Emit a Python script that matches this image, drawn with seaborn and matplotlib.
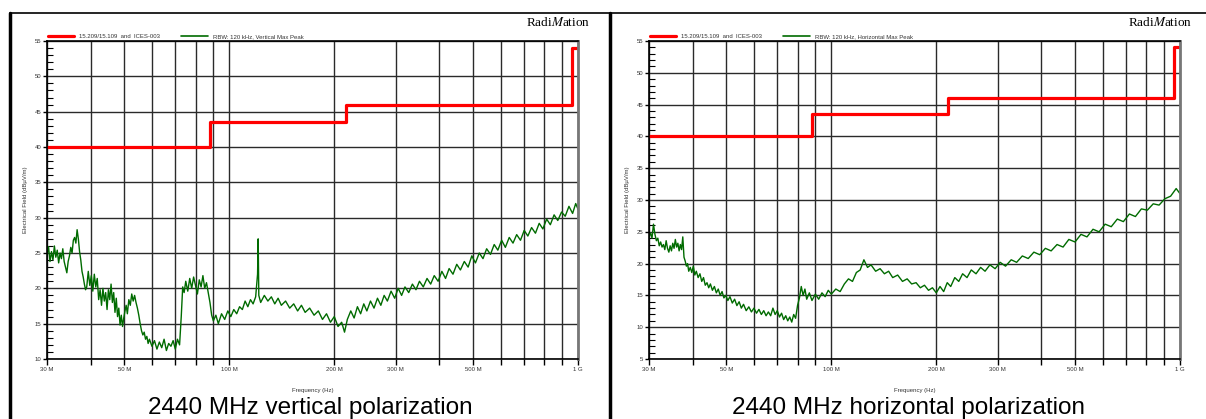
import matplotlib
matplotlib.use('Agg')
import matplotlib.pyplot as plt
import seaborn as sns
import pandas as pd
from matplotlib.lines import Line2D
from matplotlib.ticker import FixedLocator, MultipleLocator

# limit line (15.209/15.109 and ICES-003), MHz / dBuV/m
limit_freq = [30, 88, 88, 216, 216, 960, 960, 1000]
limit_level = [40, 40, 43.5, 43.5, 46, 46, 54, 54]

# vertical polarization max peak trace
freq_v = [30.0, 30.3, 30.6, 30.9, 31.2, 31.5, 31.8, 32.1, 32.4, 32.7,
          33.0, 33.3, 33.6, 33.9, 34.2, 34.5, 34.8, 35.1, 35.4, 35.7,
          36.0, 36.3, 36.6, 36.9, 37.2, 37.5, 37.8, 38.1, 38.4, 38.7,
          39.0, 39.4, 39.8, 40.2, 40.6, 41.0, 41.4, 41.8, 42.2, 42.6,
          43.0, 43.4, 43.8, 44.2, 44.6, 45.0, 45.4, 45.8, 46.2, 46.6,
          47.0, 47.4, 47.8, 48.2, 48.6, 49.0, 49.4, 49.8, 50.2, 50.6,
          51.0, 51.5, 52.0, 52.5, 53.0, 53.5, 54.0, 54.5, 55.0, 55.5,
          56.0, 56.5, 57.0, 57.5, 58.0, 58.5, 59.0, 60.0, 61.0, 62.0,
          63.0, 64.0, 65.0, 66.0, 67.0, 68.0, 69.0, 70.0, 71.0, 72.0,
          72.8, 73.5, 74.2, 75.0, 76.0, 77.0, 78.0, 79.0, 80.0, 81.0,
          82.0, 83.0, 84.0, 85.0, 86.0, 87.0, 88.0, 89.0, 90.0, 91.5,
          93.0, 95.0, 97.0, 99.0, 101, 103, 105, 107, 109, 111,
          113, 115, 117, 119, 120.5, 121, 121.5, 123, 126, 129,
          132, 135, 138, 141, 145, 149, 153, 157, 161, 165,
          170, 175, 180, 185, 190, 195, 200, 205, 210, 214,
          218, 223, 228, 233, 238, 243, 248, 254, 260, 266,
          272, 278, 284, 291, 298, 305, 312, 319, 327, 335,
          343, 351, 360, 369, 378, 387, 397, 407, 417, 427,
          438, 449, 460, 472, 484, 496, 508, 521, 534, 547,
          561, 575, 589, 604, 619, 635, 651, 667, 684, 701,
          718, 736, 755, 774, 793, 813, 833, 854, 875, 897,
          919, 942, 965, 985, 1000]
level_v = [24.6, 25.9, 23.8, 25.2, 24.0, 26.0, 24.4, 25.4, 23.6, 25.0,
           24.2, 25.6, 23.8, 23.0, 22.2, 23.8, 24.6, 25.8, 25.0, 26.8,
           27.2, 26.4, 28.3, 27.0, 25.2, 24.0, 22.4, 21.6, 20.6, 19.8,
           20.2, 22.4, 20.4, 21.8, 19.6, 22.0, 20.2, 21.4, 18.4, 19.8,
           17.6, 20.0, 18.2, 19.4, 17.0, 19.8, 18.4, 20.6, 18.0, 19.4,
           16.6, 18.6, 16.0, 17.2, 14.8, 16.2, 14.6, 15.8, 16.8, 17.6,
           16.4, 18.4, 17.6, 19.2, 18.2, 19.0, 18.0, 17.2, 16.2, 15.0,
           14.0, 13.4, 13.8, 12.8, 13.2, 12.2, 12.8, 11.8, 12.6, 11.4,
           12.4, 11.6, 12.8, 11.2, 12.2, 11.8, 12.6, 11.4, 12.8, 12.0,
           16.0, 20.2, 19.4, 21.0, 19.6, 21.4, 20.0, 21.6, 20.4, 19.2,
           21.2, 20.2, 21.8, 20.0, 20.8, 19.4, 18.0, 16.2, 15.4, 16.2,
           15.0, 16.4, 15.6, 16.8, 16.0, 17.0, 16.4, 17.4, 17.0, 18.2,
           17.4, 18.4, 17.8, 18.8, 22.0, 27.0, 19.0, 18.0, 19.0, 18.2,
           18.8, 17.8, 18.6, 17.6, 18.2, 17.2, 17.8, 16.8, 17.6, 16.6,
           17.2, 16.2, 16.8, 15.6, 16.4, 15.2, 16.0, 14.6, 15.2, 13.8,
           15.6, 16.8, 15.8, 17.4, 16.4, 17.8, 16.8, 18.2, 17.2, 18.6,
           17.6, 19.0, 18.2, 19.6, 18.6, 20.0, 19.0, 20.2, 19.4, 20.6,
           19.8, 21.0, 20.2, 21.4, 20.6, 21.8, 21.0, 22.4, 21.4, 22.8,
           22.0, 23.4, 22.6, 23.8, 23.0, 24.6, 23.6, 25.0, 24.2, 25.6,
           24.8, 26.2, 25.4, 26.8, 25.8, 27.2, 26.4, 27.6, 26.8, 28.2,
           27.4, 28.6, 27.8, 29.2, 28.4, 29.8, 29.0, 30.4, 29.6, 30.8,
           30.2, 31.6, 30.6, 32.0, 31.2]

# horizontal polarization max peak trace
freq_h = [30.0, 30.3, 30.6, 30.9, 31.2, 31.5, 31.8, 32.1, 32.4, 32.7,
          33.0, 33.3, 33.6, 33.9, 34.2, 34.5, 34.8, 35.1, 35.4, 35.7,
          36.0, 36.3, 36.6, 36.9, 37.2, 37.5, 37.8, 38.1, 38.4, 38.7,
          39.0, 39.4, 39.8, 40.2, 40.6, 41.0, 41.5, 42.0, 42.5, 43.0,
          43.5, 44.0, 44.5, 45.0, 45.6, 46.2, 46.8, 47.4, 48.0, 48.6,
          49.2, 49.8, 50.5, 51.2, 52.0, 52.8, 53.6, 54.4, 55.2, 56.0,
          57.0, 58.0, 59.0, 60.0, 61.0, 62.0, 63.0, 64.0, 65.0, 66.0,
          67.0, 68.0, 69.0, 70.0, 71.0, 72.0, 73.0, 74.0, 75.0, 76.0,
          77.0, 78.0, 79.0, 80.0, 81.0, 82.0, 83.0, 84.0, 85.0, 86.5,
          88.0, 90.0, 92.0, 94.0, 96.0, 98.0,
          100, 103, 106, 109, 112, 115, 118, 121, 124, 127,
          130, 134, 138, 142, 146, 150, 155, 160, 165, 170,
          175, 180, 185, 190, 195, 200, 205, 210, 215, 220,
          226, 232, 238, 245, 252, 260, 268, 276, 285, 295,
          305, 316, 328, 340, 353, 367, 381, 396, 411, 427,
          444, 462, 480, 500, 520, 541, 563, 586, 610, 635,
          661, 688, 716, 745, 775, 806, 838, 871, 905, 940,
          975, 1000]
level_h = [24.2, 24.8, 24.0, 26.2, 24.6, 23.6, 24.0, 22.8, 23.4, 22.6,
           23.0, 22.2, 23.6, 22.4, 21.8, 22.8, 22.0, 23.2, 22.4, 23.8,
           22.6, 23.2, 22.0, 23.0, 22.2, 24.2, 21.0, 20.4, 19.6, 20.0,
           18.8, 19.4, 18.6, 19.6, 18.2, 18.8, 17.8, 18.4, 17.2, 17.8,
           16.6, 17.0, 16.2, 16.8, 15.8, 16.4, 15.4, 16.0, 15.0, 15.6,
           14.6, 15.0, 14.2, 14.8, 13.8, 14.4, 13.4, 14.0, 13.0, 13.6,
           12.6, 13.2, 12.4, 13.0, 12.2, 12.8, 12.0, 12.6, 11.8, 12.4,
           11.8, 13.0, 12.0, 12.6, 11.6, 12.2, 11.2, 11.8, 11.0, 11.6,
           10.8, 12.0, 11.4, 13.4, 14.6, 16.4, 15.0, 16.0, 14.4, 15.4,
           14.2, 15.2, 14.4, 15.4, 14.8, 15.8,
           15.2, 16.0, 15.6, 16.8, 17.6, 17.2, 18.6, 19.0, 20.6, 19.4,
           19.8, 18.8, 19.2, 18.4, 18.8, 17.8, 18.2, 17.2, 17.6, 16.8,
           17.0, 16.2, 16.6, 15.8, 16.2, 15.4, 16.4, 15.6, 17.0, 16.4,
           17.8, 17.2, 18.4, 17.8, 19.0, 18.4, 19.4, 18.8, 19.8, 19.2,
           20.2, 19.6, 20.6, 20.2, 21.2, 20.8, 21.8, 21.4, 22.4, 22.0,
           23.0, 22.6, 23.8, 23.4, 24.6, 24.2, 25.4, 25.0, 26.2, 25.8,
           27.0, 26.6, 27.8, 27.4, 28.6, 28.4, 29.4, 29.2, 30.2, 30.6,
           31.8, 31.0]

grid_freqs = [30, 40, 50, 60, 70, 80, 90, 100, 200, 300, 400, 500, 600, 700, 800, 900, 1000]
grid_labels = ['30 M', '', '50 M', '', '', '', '', '100 M', '200 M', '300 M', '', '500 M', '', '', '', '', '1 G']

limit_label = '15.209/15.109  and  ICES-003'
trace_labels = ['RBW: 120 kHz, Vertical Max Peak', 'RBW: 120 kHz, Horizontal Max Peak']
captions = ['2440 MHz vertical polarization', '2440 MHz horizontal polarization']
y_mins = [10, 5]

sns.set_style('white')
plt.rcParams['font.family'] = ['Liberation Sans Narrow', 'Liberation Sans', 'DejaVu Sans']
plt.rcParams['mathtext.fontset'] = 'stix'
plt.rcParams['text.color'] = 'black'
plt.rcParams['axes.labelcolor'] = '#333333'
plt.rcParams['xtick.color'] = 'black'
plt.rcParams['ytick.color'] = 'black'
plt.rcParams['xtick.labelcolor'] = '#333333'
plt.rcParams['ytick.labelcolor'] = '#333333'

W, H = 1206, 419
fig = plt.figure(figsize=(W / 100, H / 100), dpi=100)

red = '#ff0000'
green = '#006b00'
grid_col = '#2a2a2a'

traces = [(freq_v, level_v), (freq_h, level_h)]
ax_left = [47, 649]
cell_mid = [310, 908]
logo_right = [590, 1192]

for i in range(2):
    ax = fig.add_axes([ax_left[i] / W, (H - 359) / H, 531 / W, 318 / H])
    ax.set_xscale('log')

    trace = pd.DataFrame({'freq': traces[i][0], 'level': traces[i][1]})
    limit = pd.DataFrame({'freq': limit_freq, 'level': limit_level})
    sns.lineplot(data=trace, x='freq', y='level', ax=ax, color=green, lw=1.0,
                 estimator=None, sort=False)
    sns.lineplot(data=limit, x='freq', y='level', ax=ax, color=red, lw=2.3,
                 estimator=None, sort=False)

    ax.set_xlim(30, 1000)
    ax.set_ylim(y_mins[i], 55)
    ax.xaxis.set_major_locator(FixedLocator(grid_freqs))
    ax.xaxis.set_minor_locator(FixedLocator([]))
    ax.set_xticklabels(grid_labels)
    ax.yaxis.set_major_locator(MultipleLocator(5))
    ax.yaxis.set_minor_locator(MultipleLocator(1))

    ax.grid(True, which='major', color=grid_col, lw=1.0)
    ax.set_axisbelow(True)
    ax.tick_params(axis='x', which='major', direction='out', length=4, width=1,
                   labelsize=4.3, pad=2, bottom=True)
    ax.tick_params(axis='y', which='major', direction='out', length=3, width=1,
                   labelsize=4.3, pad=1, left=True)
    ax.tick_params(axis='y', which='minor', direction='in', length=4, width=0.8, left=True)
    for s in ax.spines.values():
        s.set_color('black')
        s.set_linewidth(1.2)
    ax.spines['right'].set_color('#777777')
    ax.spines['right'].set_linewidth(2)

    ax.set_xlabel('Frequency (Hz)', fontsize=4.3, labelpad=11)
    ax.set_ylabel('Electrical Field (dB\u00b5V/m)', fontsize=4.3, labelpad=5)

    handles = [Line2D([], [], color=red, lw=2.3), Line2D([], [], color=green, lw=1.2)]
    ax.legend(handles, [limit_label, trace_labels[i]], loc='lower left',
              bbox_to_anchor=(0, 1.005), ncol=2, frameon=False, fontsize=4.3,
              handlelength=4.5, columnspacing=3.5, borderaxespad=0, borderpad=0.1,
              labelcolor='#333333')

    fig.text(logo_right[i] / W, 1 - 22 / H, r'Radi$\mathit{M}$ation', ha='right',
             va='center', fontsize=9.5, family='Liberation Serif', color='black')
    fig.text(cell_mid[i] / W, 1 - 408 / H, captions[i], ha='center', va='center',
             fontsize=17.5, color='black')

# table-like frame around the two cells
for xv in [10, 610]:
    fig.add_artist(Line2D([xv / W, xv / W], [0, 1 - 13 / H], transform=fig.transFigure,
                          color='black', lw=2.5))
fig.add_artist(Line2D([10 / W, 1], [1 - 13 / H, 1 - 13 / H], transform=fig.transFigure,
                      color='black', lw=1.2))

fig.savefig('out.png', dpi=100)
